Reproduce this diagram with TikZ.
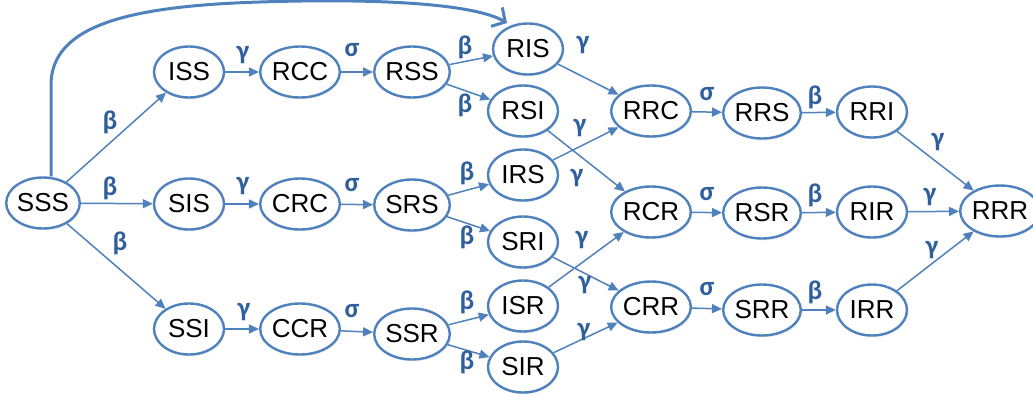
\documentclass[tikz,border=0pt]{standalone}
\usepackage{fontspec}
\setmainfont{Liberation Sans}
\newfontfamily\grk{Carlito}
\usetikzlibrary{shapes.geometric,arrows.meta,shadows}
\definecolor{edgeblue}{HTML}{4F81BD}
\definecolor{labblue}{HTML}{30609C}
\begin{document}
\begin{tikzpicture}[x=1pt,y=-1pt,
  st/.style={ellipse,draw=edgeblue,line width=2.4pt,fill=white,
    minimum width=70pt,minimum height=51pt,inner sep=0pt,
    drop shadow={opacity=0.12,shadow xshift=1pt,shadow yshift=-2pt},
    font=\fontsize{26}{28}\selectfont},
  ed/.style={draw=edgeblue,line width=1.5pt,-{Triangle[length=10pt,width=9pt]}},
  lab/.style={text=labblue,inner sep=0pt,font=\grk\bfseries\fontsize{27}{28}\selectfont}]
\useasboundingbox (0,0) rectangle (1033,396);

% states
\node[st] (SSS) at (43,203) {SSS};
\node[st] (ISS) at (189,72) {ISS};
\node[st] (SIS) at (189,204) {SIS};
\node[st] (SSI) at (189,329) {SSI};
\node[st] (RCC) at (300,72) {RCC};
\node[st] (CRC) at (300,204) {CRC};
\node[st] (CCR) at (300,329) {CCR};
\node[st] (RSS) at (412,72) {RSS};
\node[st] (SRS) at (412,205) {SRS};
\node[st] (SSR) at (412,334) {SSR};
\node[st] (RIS) at (528,49) {RIS};
\node[st] (RSI) at (523,111) {RSI};
\node[st] (IRS) at (523,175) {IRS};
\node[st] (SRI) at (523,242) {SRI};
\node[st] (ISR) at (523,306) {ISR};
\node[st] (SIR) at (523,367) {SIR};
\node[st] (RRC) at (651,111) {RRC};
\node[st] (RCR) at (651,212) {RCR};
\node[st] (CRR) at (651,307) {CRR};
\node[st] (RRS) at (762,113) {RRS};
\node[st] (RSR) at (762,213) {RSR};
\node[st] (SRR) at (762,310) {SRR};
\node[st] (RRI) at (872,112) {RRI};
\node[st] (RIR) at (872,212) {RIR};
\node[st] (IRR) at (872,310) {IRR};
\node[st] (RRR) at (1000,211) {RRR};

% transitions
\draw[ed] (SSS) -- (ISS);
\draw[ed] (SSS) -- (SIS);
\draw[ed] (SSS) -- (SSI);
\draw[ed] (ISS) -- (RCC);
\draw[ed] (SIS) -- (CRC);
\draw[ed] (SSI) -- (CCR);
\draw[ed] (RCC) -- (RSS);
\draw[ed] (CRC) -- (SRS);
\draw[ed] (CCR) -- (SSR);
\draw[ed] (RSS) -- (RIS);
\draw[ed] (RSS) -- (RSI);
\draw[ed] (SRS) -- (IRS);
\draw[ed] (SRS) -- (SRI);
\draw[ed] (SSR) -- (ISR);
\draw[ed] (SSR) -- (SIR);
\draw[ed] (RIS) -- (RRC);
\draw[ed] (RSI) -- (RCR);
\draw[ed] (IRS) -- (RRC);
\draw[ed] (SRI) -- (CRR);
\draw[ed] (ISR) -- (RCR);
\draw[ed] (SIR) -- (CRR);
\draw[ed] (RRC) -- (RRS);
\draw[ed] (RCR) -- (RSR);
\draw[ed] (CRR) -- (SRR);
\draw[ed] (RRS) -- (RRI);
\draw[ed] (RSR) -- (RIR);
\draw[ed] (SRR) -- (IRR);
\draw[ed] (RRI) -- (RRR);
\draw[ed] (RIR) -- (RRR);
\draw[ed] (IRR) -- (RRR);

% long jump SSS -> RIS
\coordinate (jumptip) at (507,23);
\draw[edgeblue,line width=3pt,-{Straight Barb[length=10pt,width=22pt]}]
  ([xshift=8pt]SSS.north) -- (51,85)
  .. controls (51,25) and (130,6) .. (260,2)
  .. controls (380,-2) and (475,4) .. (jumptip);

% rate labels
\node[lab] (b1) at (110,122) {β};
\node[lab] (b2) at (110,188) {β};
\node[lab] (b3) at (120,243) {β};
\node[lab] (g1) at (243,55) {γ};
\node[lab] (g2) at (243,186) {γ};
\node[lab] (g3) at (244,312) {γ};
\node[lab] (s1) at (352,50) {σ};
\node[lab] (s2) at (352,185) {σ};
\node[lab] (s3) at (352,311) {σ};
\node[lab] (b4) at (465,47) {β};
\node[lab] (b5) at (465,105) {β};
\node[lab] (b6) at (467,173) {β};
\node[lab] (b7) at (467,237) {β};
\node[lab] (b8) at (467,302) {β};
\node[lab] (b9) at (467,362) {β};
\node[lab] (g4) at (583,45) {γ};
\node[lab] (g5) at (580,128) {γ};
\node[lab] (g6) at (577,178) {γ};
\node[lab] (g7) at (582,240) {γ};
\node[lab] (g8) at (585,285) {γ};
\node[lab] (g9) at (584,332) {γ};
\node[lab] (s4) at (707,94) {σ};
\node[lab] (s5) at (707,194) {σ};
\node[lab] (s6) at (707,289) {σ};
\node[lab] (b10) at (815,97) {β};
\node[lab] (b11) at (815,195) {β};
\node[lab] (b12) at (815,292) {β};
\node[lab] (g10) at (938,142) {γ};
\node[lab] (g11) at (930,197) {γ};
\node[lab] (g12) at (932,250) {γ};
\end{tikzpicture}
\end{document}
